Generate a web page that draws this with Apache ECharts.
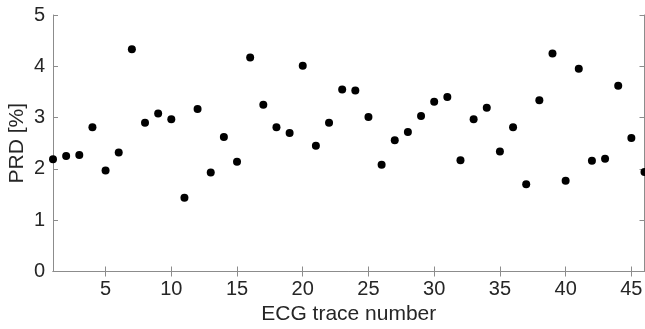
<!DOCTYPE html>
<html>
<head>
<meta charset="utf-8">
<script src="https://cdn.jsdelivr.net/npm/echarts@6/dist/echarts.min.js"></script>
<style>
  html, body { margin: 0; padding: 0; background: #fff; }
  #chart { width: 645px; height: 329px; }
</style>
</head>
<body>
<div id="chart"></div>
<script>
// PRD per ECG trace (trace 1..46)
const traceNumbers = Array.from({ length: 46 }, (_, i) => i + 1);
const prdValues = [
  2.19, 2.25, 2.27, 2.81, 1.97, 2.32, 4.33, 2.90, 3.08, 2.97,
  1.44, 3.17, 1.93, 2.62, 2.14, 4.17, 3.25, 2.81, 2.70, 4.01,
  2.45, 2.90, 3.55, 3.53, 3.01, 2.08, 2.56, 2.72, 3.03, 3.31,
  3.40, 2.17, 2.97, 3.19, 2.34, 2.81, 1.70, 3.34, 4.25, 1.77,
  3.95, 2.16, 2.20, 3.62, 2.60, 1.94
];
const xTicks = [5, 10, 15, 20, 25, 30, 35, 40, 45];

const chart = echarts.init(document.getElementById('chart'));

const axisColor = '#8c8c8c';
const textColor = '#262626';
const font = 'Liberation Sans, Arial, Helvetica, sans-serif';

const points = traceNumbers.map((n, i) => [n, prdValues[i]]);

const option = {
  animation: false,
  grid: { left: 53, right: 0.5, top: 15, bottom: 57.5, outerBoundsMode: 'none', containLabel: false },
  xAxis: [
    {
      type: 'value',
      min: 1,
      max: 46,
      interval: 1,
      name: 'ECG trace number',
      nameLocation: 'middle',
      nameGap: 32,
      nameMoveOverlap: false,
      nameTextStyle: { color: textColor, fontSize: 21, fontFamily: font },
      axisLine: { show: true, lineStyle: { color: axisColor, width: 1 } },
      axisTick: {
        show: true, inside: true, length: 5,
        lineStyle: { color: axisColor },
        customValues: xTicks
      },
      axisLabel: {
        color: textColor, fontSize: 20, fontFamily: font, margin: 8,
        customValues: xTicks
      },
      splitLine: { show: false }
    },
    {
      type: 'value',
      position: 'top',
      min: 1,
      max: 46,
      axisLine: { show: true, lineStyle: { color: axisColor, width: 1 } },
      axisTick: {
        show: true, inside: true, length: 5,
        lineStyle: { color: axisColor },
        customValues: xTicks
      },
      axisLabel: { show: false },
      splitLine: { show: false }
    }
  ],
  yAxis: [
    {
      type: 'value',
      min: 0,
      max: 5,
      interval: 1,
      name: 'PRD [%]',
      nameLocation: 'middle',
      nameGap: 25,
      nameMoveOverlap: false,
      nameTextStyle: { color: textColor, fontSize: 21, fontFamily: font },
      axisLine: { show: true, lineStyle: { color: axisColor, width: 1 } },
      axisTick: { show: true, inside: true, length: 5, lineStyle: { color: axisColor } },
      axisLabel: { color: textColor, fontSize: 20, fontFamily: font, margin: 8 },
      splitLine: { show: false }
    },
    {
      type: 'value',
      position: 'right',
      min: 0,
      max: 5,
      interval: 1,
      axisLine: { show: true, lineStyle: { color: axisColor, width: 1 } },
      axisTick: { show: true, inside: true, length: 5, lineStyle: { color: axisColor } },
      axisLabel: { show: false },
      splitLine: { show: false }
    }
  ],
  series: [
    {
      type: 'scatter',
      data: points,
      symbol: 'circle',
      symbolSize: 8,
      itemStyle: { color: '#000000', opacity: 1 },
      clip: false
    }
  ]
};

chart.setOption(option);
</script>
</body>
</html>
